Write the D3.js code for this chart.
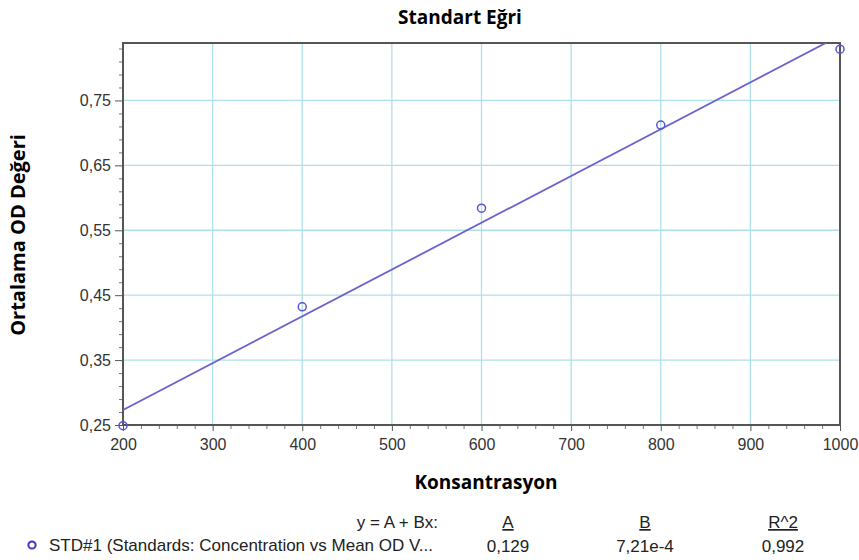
<!DOCTYPE html>
<html>
<head>
<meta charset="utf-8">
<script src="https://cdn.jsdelivr.net/npm/d3@7"></script>
<style>
  body { margin: 0; background: #fff; }
  svg { display: block; }
</style>
</head>
<body>
<div id="chart"></div>
<script>
// standards
const concentrations = [200, 400, 600, 800, 1000];
const meanOD = [0.249, 0.432, 0.584, 0.712, 0.829];

// fit: y = A + Bx
const fitA = 0.129;
const fitB = 7.21e-4;
const fitR2 = 0.992;

const xTicks = [200, 300, 400, 500, 600, 700, 800, 900, 1000];
const yTicks = [0.25, 0.35, 0.45, 0.55, 0.65, 0.75];

const width = 859;
const height = 560;
const margin = {top: 43, right: 19, bottom: 135, left: 123};

const tr = d3.formatLocale({decimal: ",", thousands: ".", grouping: [3], currency: ["", ""]});

const svg = d3.select("#chart").append("svg")
    .attr("width", width)
    .attr("height", height);

const x = d3.scaleLinear()
    .domain([200, 1000])
    .range([margin.left, width - margin.right]);

const y = d3.scaleLinear()
    .domain([0.25, 0.8385])
    .range([height - margin.bottom, margin.top]);

// grid
svg.append("g")
    .attr("stroke", "#aee0ea")
    .attr("stroke-width", 1.3)
  .selectAll("line")
  .data(xTicks.slice(1, -1))
  .join("line")
    .attr("x1", d => x(d)).attr("x2", d => x(d))
    .attr("y1", y.range()[0]).attr("y2", y.range()[1]);

svg.append("g")
    .attr("stroke", "#aee0ea")
    .attr("stroke-width", 1.3)
  .selectAll("line")
  .data(yTicks.slice(1))
  .join("line")
    .attr("x1", x.range()[0]).attr("x2", x.range()[1])
    .attr("y1", d => y(d)).attr("y2", d => y(d));

// minor ticks
const xMinor = d3.range(200, 1000.1, 20).filter(v => !xTicks.includes(v));
const yMinor = d3.range(0.27, 0.84, 0.02).filter(v => !yTicks.some(t => Math.abs(t - v) < 1e-6));

svg.append("g")
    .attr("transform", `translate(0,${y.range()[0]})`)
    .call(d3.axisBottom(x).tickValues(xMinor).tickSize(4).tickFormat(""))
    .call(g => g.select(".domain").remove())
    .call(g => g.selectAll("line").attr("stroke", "#777"));

svg.append("g")
    .attr("transform", `translate(${x.range()[0]},0)`)
    .call(d3.axisLeft(y).tickValues(yMinor).tickSize(4).tickFormat(""))
    .call(g => g.select(".domain").remove())
    .call(g => g.selectAll("line").attr("stroke", "#777"));

// major axes
const tickFont = "16px 'Liberation Sans', Arial, sans-serif";

svg.append("g")
    .attr("transform", `translate(0,${y.range()[0]})`)
    .call(d3.axisBottom(x).tickValues(xTicks).tickSize(6).tickPadding(8).tickFormat(d3.format("d")))
    .call(g => g.select(".domain").remove())
    .call(g => g.selectAll("line").attr("stroke", "#555"))
    .call(g => g.selectAll("text")
        .attr("fill", "#333")
        .style("font", tickFont));

svg.append("g")
    .attr("transform", `translate(${x.range()[0]},0)`)
    .call(d3.axisLeft(y).tickValues(yTicks).tickSize(8).tickPadding(4).tickFormat(tr.format(".2f")))
    .call(g => g.select(".domain").remove())
    .call(g => g.selectAll("line").attr("stroke", "#555"))
    .call(g => g.selectAll("text")
        .attr("fill", "#333")
        .style("font", tickFont));

// frame
svg.append("rect")
    .attr("x", x.range()[0]).attr("y", y.range()[1])
    .attr("width", x.range()[1] - x.range()[0])
    .attr("height", y.range()[0] - y.range()[1])
    .attr("fill", "none")
    .attr("stroke", "#555")
    .attr("stroke-width", 2);

// fit line, clipped to plot
svg.append("clipPath").attr("id", "plot")
  .append("rect")
    .attr("x", x.range()[0]).attr("y", y.range()[1])
    .attr("width", x.range()[1] - x.range()[0])
    .attr("height", y.range()[0] - y.range()[1]);

svg.append("line")
    .attr("clip-path", "url(#plot)")
    .attr("x1", x(200)).attr("y1", y(fitA + fitB * 200))
    .attr("x2", x(1000)).attr("y2", y(fitA + fitB * 1000))
    .attr("stroke", "#6a62cc")
    .attr("stroke-width", 1.8);

// points
svg.append("g")
    .attr("fill", "none")
    .attr("stroke", "#5a55cf")
    .attr("stroke-width", 1.5)
  .selectAll("circle")
  .data(concentrations.map((c, i) => ({c, v: meanOD[i]})))
  .join("circle")
    .attr("cx", d => x(d.c))
    .attr("cy", d => y(d.v))
    .attr("r", 4);

// titles
const titleFont = "bold 19px 'Open Sans', 'Noto Sans', sans-serif";

svg.append("text")
    .attr("x", 460).attr("y", 24)
    .attr("text-anchor", "middle")
    .style("font", titleFont)
    .text("Standart Eğri");

svg.append("text")
    .attr("x", 486).attr("y", 489)
    .attr("text-anchor", "middle")
    .style("font", titleFont)
    .text("Konsantrasyon");

svg.append("text")
    .attr("transform", "translate(25,235) rotate(-90)")
    .attr("text-anchor", "middle")
    .style("font", "bold 20px 'Open Sans', 'Noto Sans', sans-serif")
    .text("Ortalama OD Değeri");

// legend / fit table
const legFont = "17px 'Liberation Sans', Arial, sans-serif";
const cols = [
  {head: "A", val: tr.format(".3f")(fitA), x: 508},
  {head: "B", val: "7,21e-4", x: 645},
  {head: "R^2", val: tr.format(".3f")(fitR2), x: 783}
];

svg.append("text")
    .attr("x", 438).attr("y", 528)
    .attr("text-anchor", "end")
    .attr("fill", "#222")
    .style("font", legFont)
    .text("y = A + Bx:");

svg.append("g").selectAll("text")
  .data(cols)
  .join("text")
    .attr("x", d => d.x).attr("y", 528)
    .attr("text-anchor", "middle")
    .attr("fill", "#222")
    .attr("text-decoration", "underline")
    .style("font", legFont)
    .text(d => d.head);

svg.append("g").selectAll("text")
  .data(cols)
  .join("text")
    .attr("x", d => d.x).attr("y", 552)
    .attr("text-anchor", "middle")
    .attr("fill", "#222")
    .style("font", legFont)
    .text(d => d.val);

svg.append("circle")
    .attr("cx", 32).attr("cy", 545)
    .attr("r", 3.6)
    .attr("fill", "none")
    .attr("stroke", "#3b36c8")
    .attr("stroke-width", 2);

svg.append("text")
    .attr("x", 49).attr("y", 551)
    .attr("fill", "#222")
    .style("font", legFont)
    .text("STD#1 (Standards: Concentration vs Mean OD V...");
</script>
</body>
</html>
